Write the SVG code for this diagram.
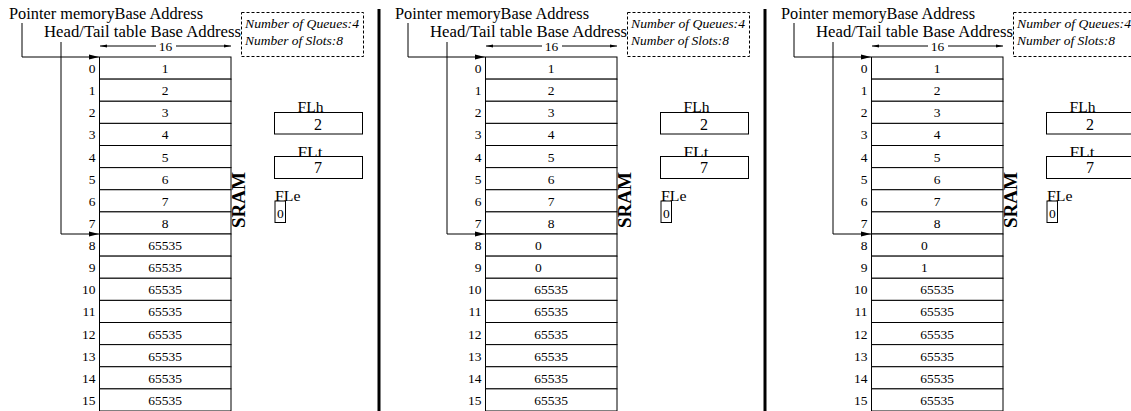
<svg xmlns="http://www.w3.org/2000/svg" width="1131" height="411" viewBox="0 0 1131 411">
<style>
text{font-family:"Liberation Serif","Times New Roman",serif;fill:#000}
.lbl{font-size:16px}
.idx{font-size:13.5px;text-anchor:end}
.val{font-size:13.5px;text-anchor:middle}
.vs{font-size:13.5px;text-anchor:start}
.cell{fill:#fff;stroke:#000;stroke-width:1}
.box{fill:#fff;stroke:#000;stroke-width:1}
.fl{font-size:15px}
.flv{font-size:16px;text-anchor:middle}
.note{font-size:12.5px;font-style:italic}
.dash{fill:none;stroke:#000;stroke-width:1;stroke-dasharray:3,2}
.conn{fill:none;stroke:#000;stroke-width:1}
.sram{font-size:19px;font-weight:bold;text-anchor:middle}
.sep{stroke:#000;stroke-width:3}
</style>
<defs>
<marker id="ah" markerWidth="10" markerHeight="6" refX="10" refY="3" orient="auto" markerUnits="userSpaceOnUse"><path d="M0,0.5 L10,3 L0,5.5 z" fill="#000"/></marker>
<marker id="ahs" markerWidth="7" markerHeight="4" refX="7" refY="2" orient="auto" markerUnits="userSpaceOnUse"><path d="M0,0.5 L7,2 L0,3.5 z" fill="#000"/></marker>
</defs>

<!-- ===== Panel 1 ===== -->
<g id="panel1">
<g id="p1-labels">
<text class="lbl" x="9" y="19" textLength="194" lengthAdjust="spacingAndGlyphs">Pointer memoryBase Address</text>
<text class="lbl" x="44" y="37" textLength="197" lengthAdjust="spacingAndGlyphs">Head/Tail table Base Address</text>
</g>
<g id="p1-info">
<rect class="dash" x="241.5" y="12.5" width="122" height="44"/>
<text class="note" x="245" y="27.5" textLength="114" lengthAdjust="spacingAndGlyphs">Number of Queues:4</text>
<text class="note" x="245" y="45" textLength="98" lengthAdjust="spacingAndGlyphs">Number of Slots:8</text>
</g>
<g id="p1-table">
<g id="p1-r0"><rect class="cell" x="99.5" y="57" width="131.5" height="22.125"/><text class="idx" x="95.5" y="73">0</text><text class="val" x="165" y="73">1</text></g>
<g id="p1-r1"><rect class="cell" x="99.5" y="79.125" width="131.5" height="22.125"/><text class="idx" x="95.5" y="95.1">1</text><text class="val" x="165" y="95.1">2</text></g>
<g id="p1-r2"><rect class="cell" x="99.5" y="101.25" width="131.5" height="22.125"/><text class="idx" x="95.5" y="117.3">2</text><text class="val" x="165" y="117.3">3</text></g>
<g id="p1-r3"><rect class="cell" x="99.5" y="123.375" width="131.5" height="22.125"/><text class="idx" x="95.5" y="139.4">3</text><text class="val" x="165" y="139.4">4</text></g>
<g id="p1-r4"><rect class="cell" x="99.5" y="145.5" width="131.5" height="22.125"/><text class="idx" x="95.5" y="161.5">4</text><text class="val" x="165" y="161.5">5</text></g>
<g id="p1-r5"><rect class="cell" x="99.5" y="167.625" width="131.5" height="22.125"/><text class="idx" x="95.5" y="183.6">5</text><text class="val" x="165" y="183.6">6</text></g>
<g id="p1-r6"><rect class="cell" x="99.5" y="189.75" width="131.5" height="22.125"/><text class="idx" x="95.5" y="205.8">6</text><text class="val" x="165" y="205.8">7</text></g>
<g id="p1-r7"><rect class="cell" x="99.5" y="211.875" width="131.5" height="22.125"/><text class="idx" x="95.5" y="227.9">7</text><text class="val" x="165" y="227.9">8</text></g>
<g id="p1-r8"><rect class="cell" x="99.5" y="234" width="131.5" height="22.125"/><text class="idx" x="95.5" y="250">8</text><text class="val" x="165" y="250">65535</text></g>
<g id="p1-r9"><rect class="cell" x="99.5" y="256.125" width="131.5" height="22.125"/><text class="idx" x="95.5" y="272.1">9</text><text class="val" x="165" y="272.1">65535</text></g>
<g id="p1-r10"><rect class="cell" x="99.5" y="278.25" width="131.5" height="22.125"/><text class="idx" x="95.5" y="294.3">10</text><text class="val" x="165" y="294.3">65535</text></g>
<g id="p1-r11"><rect class="cell" x="99.5" y="300.375" width="131.5" height="22.125"/><text class="idx" x="95.5" y="316.4">11</text><text class="val" x="165" y="316.4">65535</text></g>
<g id="p1-r12"><rect class="cell" x="99.5" y="322.5" width="131.5" height="22.125"/><text class="idx" x="95.5" y="338.5">12</text><text class="val" x="165" y="338.5">65535</text></g>
<g id="p1-r13"><rect class="cell" x="99.5" y="344.625" width="131.5" height="22.125"/><text class="idx" x="95.5" y="360.6">13</text><text class="val" x="165" y="360.6">65535</text></g>
<g id="p1-r14"><rect class="cell" x="99.5" y="366.75" width="131.5" height="22.125"/><text class="idx" x="95.5" y="382.8">14</text><text class="val" x="165" y="382.8">65535</text></g>
<g id="p1-r15"><rect class="cell" x="99.5" y="388.875" width="131.5" height="22.125"/><text class="idx" x="95.5" y="404.9">15</text><text class="val" x="165" y="404.9">65535</text></g>
<text class="sram" transform="translate(244.5,200) rotate(-90)">SRAM</text>
</g>
<g id="p1-FLh"><text class="fl" x="297.5" y="112" textLength="26" lengthAdjust="spacingAndGlyphs">FLh</text><rect class="box" x="274.5" y="112.5" width="88" height="21.5"/><text class="flv" x="318" y="129.5">2</text></g>
<g id="p1-FLt"><text class="fl" x="297.5" y="157" textLength="25" lengthAdjust="spacingAndGlyphs">FLt</text><rect class="box" x="274.5" y="156.5" width="88" height="22"/><text class="flv" x="318" y="173">7</text></g>
<g id="p1-FLe"><text class="fl" x="275" y="201" textLength="25.5" lengthAdjust="spacingAndGlyphs">FLe</text><rect class="box" x="275" y="201" width="10.5" height="21.5"/><text class="val" x="280.3" y="217.5">0</text></g>
<g id="p1-connectors">
<path class="conn" d="M22,23 V57 H99" marker-end="url(#ah)"/>
<path class="conn" d="M61,42 V234 H99" marker-end="url(#ah)"/>
<path class="conn" d="M156,46 H100" marker-end="url(#ahs)"/>
<path class="conn" d="M176,46 H231" marker-end="url(#ahs)"/>
<text class="val" x="165.5" y="51">16</text>
</g>
</g>

<line class="sep" x1="379" y1="9" x2="379" y2="411"/>

<!-- ===== Panel 2 ===== -->
<g id="panel2" transform="translate(386,0)">
<g id="p2-labels">
<text class="lbl" x="9" y="19" textLength="194" lengthAdjust="spacingAndGlyphs">Pointer memoryBase Address</text>
<text class="lbl" x="44" y="37" textLength="197" lengthAdjust="spacingAndGlyphs">Head/Tail table Base Address</text>
</g>
<g id="p2-info">
<rect class="dash" x="241.5" y="12.5" width="122" height="44"/>
<text class="note" x="245" y="27.5" textLength="114" lengthAdjust="spacingAndGlyphs">Number of Queues:4</text>
<text class="note" x="245" y="45" textLength="98" lengthAdjust="spacingAndGlyphs">Number of Slots:8</text>
</g>
<g id="p2-table">
<g id="p2-r0"><rect class="cell" x="99.5" y="57" width="131.5" height="22.125"/><text class="idx" x="95.5" y="73">0</text><text class="val" x="165" y="73">1</text></g>
<g id="p2-r1"><rect class="cell" x="99.5" y="79.125" width="131.5" height="22.125"/><text class="idx" x="95.5" y="95.1">1</text><text class="val" x="165" y="95.1">2</text></g>
<g id="p2-r2"><rect class="cell" x="99.5" y="101.25" width="131.5" height="22.125"/><text class="idx" x="95.5" y="117.3">2</text><text class="val" x="165" y="117.3">3</text></g>
<g id="p2-r3"><rect class="cell" x="99.5" y="123.375" width="131.5" height="22.125"/><text class="idx" x="95.5" y="139.4">3</text><text class="val" x="165" y="139.4">4</text></g>
<g id="p2-r4"><rect class="cell" x="99.5" y="145.5" width="131.5" height="22.125"/><text class="idx" x="95.5" y="161.5">4</text><text class="val" x="165" y="161.5">5</text></g>
<g id="p2-r5"><rect class="cell" x="99.5" y="167.625" width="131.5" height="22.125"/><text class="idx" x="95.5" y="183.6">5</text><text class="val" x="165" y="183.6">6</text></g>
<g id="p2-r6"><rect class="cell" x="99.5" y="189.75" width="131.5" height="22.125"/><text class="idx" x="95.5" y="205.8">6</text><text class="val" x="165" y="205.8">7</text></g>
<g id="p2-r7"><rect class="cell" x="99.5" y="211.875" width="131.5" height="22.125"/><text class="idx" x="95.5" y="227.9">7</text><text class="val" x="165" y="227.9">8</text></g>
<g id="p2-r8"><rect class="cell" x="99.5" y="234" width="131.5" height="22.125"/><text class="idx" x="95.5" y="250">8</text><text class="vs" x="149" y="250">0</text></g>
<g id="p2-r9"><rect class="cell" x="99.5" y="256.125" width="131.5" height="22.125"/><text class="idx" x="95.5" y="272.1">9</text><text class="vs" x="149" y="272.1">0</text></g>
<g id="p2-r10"><rect class="cell" x="99.5" y="278.25" width="131.5" height="22.125"/><text class="idx" x="95.5" y="294.3">10</text><text class="val" x="165" y="294.3">65535</text></g>
<g id="p2-r11"><rect class="cell" x="99.5" y="300.375" width="131.5" height="22.125"/><text class="idx" x="95.5" y="316.4">11</text><text class="val" x="165" y="316.4">65535</text></g>
<g id="p2-r12"><rect class="cell" x="99.5" y="322.5" width="131.5" height="22.125"/><text class="idx" x="95.5" y="338.5">12</text><text class="val" x="165" y="338.5">65535</text></g>
<g id="p2-r13"><rect class="cell" x="99.5" y="344.625" width="131.5" height="22.125"/><text class="idx" x="95.5" y="360.6">13</text><text class="val" x="165" y="360.6">65535</text></g>
<g id="p2-r14"><rect class="cell" x="99.5" y="366.75" width="131.5" height="22.125"/><text class="idx" x="95.5" y="382.8">14</text><text class="val" x="165" y="382.8">65535</text></g>
<g id="p2-r15"><rect class="cell" x="99.5" y="388.875" width="131.5" height="22.125"/><text class="idx" x="95.5" y="404.9">15</text><text class="val" x="165" y="404.9">65535</text></g>
<text class="sram" transform="translate(244.5,200) rotate(-90)">SRAM</text>
</g>
<g id="p2-FLh"><text class="fl" x="297.5" y="112" textLength="26" lengthAdjust="spacingAndGlyphs">FLh</text><rect class="box" x="274.5" y="112.5" width="88" height="21.5"/><text class="flv" x="318" y="129.5">2</text></g>
<g id="p2-FLt"><text class="fl" x="297.5" y="157" textLength="25" lengthAdjust="spacingAndGlyphs">FLt</text><rect class="box" x="274.5" y="156.5" width="88" height="22"/><text class="flv" x="318" y="173">7</text></g>
<g id="p2-FLe"><text class="fl" x="275" y="201" textLength="25.5" lengthAdjust="spacingAndGlyphs">FLe</text><rect class="box" x="275" y="201" width="10.5" height="21.5"/><text class="val" x="280.3" y="217.5">0</text></g>
<g id="p2-connectors">
<path class="conn" d="M22,23 V57 H99" marker-end="url(#ah)"/>
<path class="conn" d="M61,42 V234 H99" marker-end="url(#ah)"/>
<path class="conn" d="M156,46 H100" marker-end="url(#ahs)"/>
<path class="conn" d="M176,46 H231" marker-end="url(#ahs)"/>
<text class="val" x="165.5" y="51">16</text>
</g>
</g>

<line class="sep" x1="765" y1="9" x2="765" y2="411"/>

<!-- ===== Panel 3 ===== -->
<g id="panel3" transform="translate(772,0)">
<g id="p3-labels">
<text class="lbl" x="9" y="19" textLength="194" lengthAdjust="spacingAndGlyphs">Pointer memoryBase Address</text>
<text class="lbl" x="44" y="37" textLength="197" lengthAdjust="spacingAndGlyphs">Head/Tail table Base Address</text>
</g>
<g id="p3-info">
<rect class="dash" x="241.5" y="12.5" width="122" height="44"/>
<text class="note" x="245" y="27.5" textLength="114" lengthAdjust="spacingAndGlyphs">Number of Queues:4</text>
<text class="note" x="245" y="45" textLength="98" lengthAdjust="spacingAndGlyphs">Number of Slots:8</text>
</g>
<g id="p3-table">
<g id="p3-r0"><rect class="cell" x="99.5" y="57" width="131.5" height="22.125"/><text class="idx" x="95.5" y="73">0</text><text class="val" x="165" y="73">1</text></g>
<g id="p3-r1"><rect class="cell" x="99.5" y="79.125" width="131.5" height="22.125"/><text class="idx" x="95.5" y="95.1">1</text><text class="val" x="165" y="95.1">2</text></g>
<g id="p3-r2"><rect class="cell" x="99.5" y="101.25" width="131.5" height="22.125"/><text class="idx" x="95.5" y="117.3">2</text><text class="val" x="165" y="117.3">3</text></g>
<g id="p3-r3"><rect class="cell" x="99.5" y="123.375" width="131.5" height="22.125"/><text class="idx" x="95.5" y="139.4">3</text><text class="val" x="165" y="139.4">4</text></g>
<g id="p3-r4"><rect class="cell" x="99.5" y="145.5" width="131.5" height="22.125"/><text class="idx" x="95.5" y="161.5">4</text><text class="val" x="165" y="161.5">5</text></g>
<g id="p3-r5"><rect class="cell" x="99.5" y="167.625" width="131.5" height="22.125"/><text class="idx" x="95.5" y="183.6">5</text><text class="val" x="165" y="183.6">6</text></g>
<g id="p3-r6"><rect class="cell" x="99.5" y="189.75" width="131.5" height="22.125"/><text class="idx" x="95.5" y="205.8">6</text><text class="val" x="165" y="205.8">7</text></g>
<g id="p3-r7"><rect class="cell" x="99.5" y="211.875" width="131.5" height="22.125"/><text class="idx" x="95.5" y="227.9">7</text><text class="val" x="165" y="227.9">8</text></g>
<g id="p3-r8"><rect class="cell" x="99.5" y="234" width="131.5" height="22.125"/><text class="idx" x="95.5" y="250">8</text><text class="vs" x="149" y="250">0</text></g>
<g id="p3-r9"><rect class="cell" x="99.5" y="256.125" width="131.5" height="22.125"/><text class="idx" x="95.5" y="272.1">9</text><text class="vs" x="149" y="272.1">1</text></g>
<g id="p3-r10"><rect class="cell" x="99.5" y="278.25" width="131.5" height="22.125"/><text class="idx" x="95.5" y="294.3">10</text><text class="val" x="165" y="294.3">65535</text></g>
<g id="p3-r11"><rect class="cell" x="99.5" y="300.375" width="131.5" height="22.125"/><text class="idx" x="95.5" y="316.4">11</text><text class="val" x="165" y="316.4">65535</text></g>
<g id="p3-r12"><rect class="cell" x="99.5" y="322.5" width="131.5" height="22.125"/><text class="idx" x="95.5" y="338.5">12</text><text class="val" x="165" y="338.5">65535</text></g>
<g id="p3-r13"><rect class="cell" x="99.5" y="344.625" width="131.5" height="22.125"/><text class="idx" x="95.5" y="360.6">13</text><text class="val" x="165" y="360.6">65535</text></g>
<g id="p3-r14"><rect class="cell" x="99.5" y="366.75" width="131.5" height="22.125"/><text class="idx" x="95.5" y="382.8">14</text><text class="val" x="165" y="382.8">65535</text></g>
<g id="p3-r15"><rect class="cell" x="99.5" y="388.875" width="131.5" height="22.125"/><text class="idx" x="95.5" y="404.9">15</text><text class="val" x="165" y="404.9">65535</text></g>
<text class="sram" transform="translate(244.5,200) rotate(-90)">SRAM</text>
</g>
<g id="p3-FLh"><text class="fl" x="297.5" y="112" textLength="26" lengthAdjust="spacingAndGlyphs">FLh</text><rect class="box" x="274.5" y="112.5" width="88" height="21.5"/><text class="flv" x="318" y="129.5">2</text></g>
<g id="p3-FLt"><text class="fl" x="297.5" y="157" textLength="25" lengthAdjust="spacingAndGlyphs">FLt</text><rect class="box" x="274.5" y="156.5" width="88" height="22"/><text class="flv" x="318" y="173">7</text></g>
<g id="p3-FLe"><text class="fl" x="275" y="201" textLength="25.5" lengthAdjust="spacingAndGlyphs">FLe</text><rect class="box" x="275" y="201" width="10.5" height="21.5"/><text class="val" x="280.3" y="217.5">0</text></g>
<g id="p3-connectors">
<path class="conn" d="M22,23 V57 H99" marker-end="url(#ah)"/>
<path class="conn" d="M61,42 V234 H99" marker-end="url(#ah)"/>
<path class="conn" d="M156,46 H100" marker-end="url(#ahs)"/>
<path class="conn" d="M176,46 H231" marker-end="url(#ahs)"/>
<text class="val" x="165.5" y="51">16</text>
</g>
</g>
</svg>
